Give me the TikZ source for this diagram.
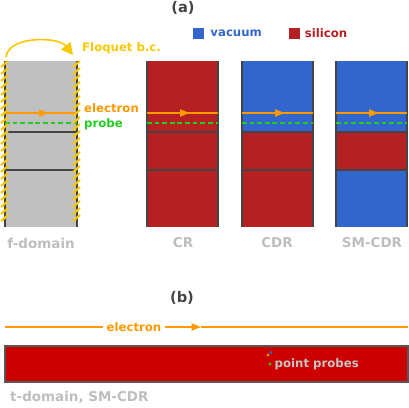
\documentclass[tikz,border=0pt]{standalone}
\usepackage{fontspec}
\setmainfont{DejaVu Sans}
\usetikzlibrary{arrows.meta,positioning,decorations.markings}
\definecolor{smred}{RGB}{181,32,34}
\definecolor{smbar}{RGB}{204,0,0}
\definecolor{smblue}{RGB}{51,102,204}
\definecolor{smdark}{RGB}{68,68,68}
\definecolor{smlabel}{RGB}{190,190,190}
\definecolor{smorange}{RGB}{255,153,0}
\definecolor{smgreen}{RGB}{34,204,34}
\definecolor{smyellow}{RGB}{250,200,0}
\definecolor{smcell}{RGB}{192,192,192}
\tikzstyle{wall} = [line width=1.8pt, color=smdark]
\tikzstyle{iface} = [line width=1.5pt, color=smdark]
\tikzstyle{hatch} = [line width=1.8pt, color=smyellow]
\tikzstyle{elec} = [line width=1.4pt, color=smorange]
\tikzstyle{elecmid} = [elec, postaction={decorate}, decoration={markings, mark=at position 0.6 with {\arrow{Triangle[length=8pt,width=6pt]}}}]
\tikzstyle{probe} = [line width=1.4pt, color=smgreen, dash pattern=on 4pt off 2.5pt]
\tikzstyle{cellname} = [font=\fontsize{11.5}{12}\selectfont\bfseries, text=smlabel, inner sep=0pt]
\tikzstyle{tag} = [font=\fontsize{10}{12}\selectfont\bfseries, inner sep=0pt, anchor=west]
\tikzstyle{panel} = [font=\fontsize{12.5}{14}\selectfont\bfseries, text=smdark, inner sep=0pt]
\tikzstyle{legbox} = [rectangle, minimum size=3.3mm, inner sep=0pt]

\begin{document}
\begin{tikzpicture}[x=0.3mm, y=-0.3mm]
\useasboundingbox (0,0) rectangle (409,407);

% (a) unit cells
\node[panel] (pa) at (183,8) {(a)};
\node[legbox, fill=smblue] (vacbox) at (198.5,33) {};
\node[tag, text=smblue, right=1.8mm of vacbox] (vac) {vacuum};
\node[legbox, fill=smred] (sibox) at (294,33) {};
\node[tag, text=smred, right=1.5mm of sibox] (si) {silicon};

\fill[smcell] (5,61) rectangle (77,227);
\fill[smred] (147,61) rectangle (218,227);
\fill[smblue] (242,61) rectangle (313,132);
\fill[smred] (242,132) rectangle (313,227);
\fill[smblue] (336,61) rectangle (407,132);
\fill[smred] (336,132) rectangle (407,170);
\fill[smblue] (336,170) rectangle (407,227);

\foreach \xl/\xr in {5/77, 147/218, 242/313, 336/407} {
  \draw[wall] (\xl,61) -- (\xl,227);
  \draw[wall] (\xr,61) -- (\xr,227);
  \draw[iface] (\xl,132) -- (\xr,132);
  \draw[iface] (\xl,170) -- (\xr,170);
  \draw[elecmid] (\xl,113) -- (\xr,113);
  \draw[probe] (\xl,123) -- (\xr,123);
}

% periodic walls of the f-domain cell
\foreach \x in {5,77} {
  \foreach \y in {64,71,...,224}
    \draw[hatch] (\x-4,\y+3) -- (\x+3,\y-3);
}

\draw[line width=1.4pt, color=smyellow, -{Triangle[length=10pt,width=10pt]}]
  (6,57) .. controls (8,36) and (58,36) .. (73,55);
\node[tag, text=smyellow] (floq) at (82,48) {Floquet b.c.};
\node[tag, text=smorange] (elab) at (84,108) {electron};
\node[tag, text=smgreen] (plab) at (84,124) {probe};

\node[cellname] (fdom) at (41,243) {f-domain};
\node[cellname] (cr) at (183,243) {CR};
\node[cellname] (cdr) at (277,243) {CDR};
\node[cellname] (smcdr) at (372,243) {SM-CDR};

% (b) time domain
\node[panel] (pb) at (182,298) {(b)};
\node[tag, text=smorange, anchor=center] (belec) at (134,327) {electron};
\coordinate (bl) at (5,327);
\coordinate (bm) at (201,327);
\coordinate (br) at (408,327);
\draw[elec] (bl) -- ([xshift=-1mm]belec.west);
\draw[elec, -{Triangle[length=8pt,width=6pt]}] ([xshift=1mm]belec.east) -- (bm);
\draw[elec] (bm) -- (br);

\draw[fill=smbar, draw=smdark!90, line width=1.3pt] (5,346) rectangle (408,382);
\fill[smorange!60!brown] (268,355) circle (1.6);
\fill[smblue] (271,352.5) circle (1.6);
\fill[smgreen] (270,364) circle (1.6);
\node[tag, text=smlabel!90!white] (pp) at (274.5,364) {point probes};
\node[cellname, anchor=west] (tdom) at (10,397) {t-domain, SM-CDR};
\end{tikzpicture}
\end{document}
